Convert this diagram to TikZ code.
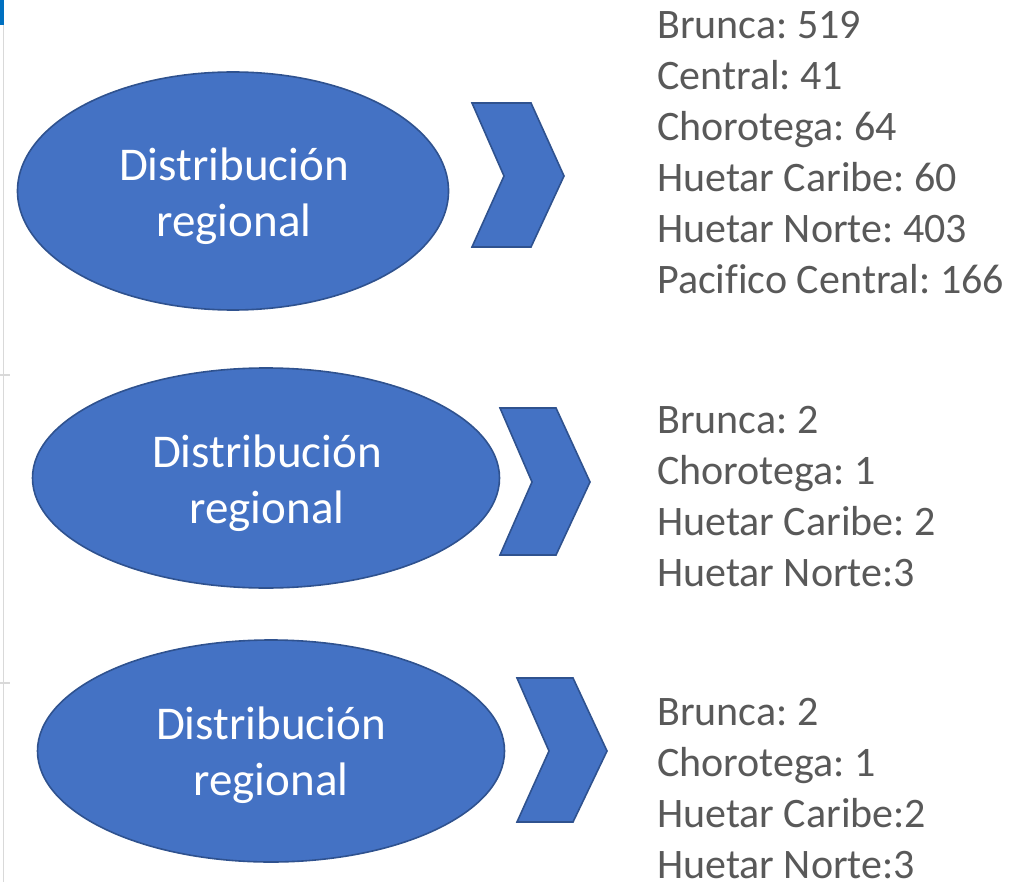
\documentclass[tikz,border=0pt]{standalone}
\usepackage{fontspec}
\setmainfont[Ligatures=NoCommon]{Carlito}
\usetikzlibrary{shapes.geometric}
\definecolor{fillblue}{HTML}{4472C4}
\definecolor{edgeblue}{HTML}{2F528F}
\definecolor{txtgray}{HTML}{595959}
\definecolor{barblue}{HTML}{0070C0}
\definecolor{rulegray}{HTML}{D9D9D9}
\frenchspacing
\begin{document}
\begin{tikzpicture}[x=1pt,y=-1pt,
  oval/.style={ellipse,fill=fillblue,draw=edgeblue,line width=1.6pt,inner sep=0pt},
  ovaltext/.style={inner sep=0pt,text=white,align=center,font=\fontsize{47}{56}\selectfont},
  chev/.style={fill=fillblue,draw=edgeblue,line width=1.6pt,line join=miter},
  list/.style={anchor=west,inner sep=0pt,align=left,text=txtgray,
    font=\fontsize{42}{51}\selectfont}
]
\useasboundingbox (0,0) rectangle (1024,882);
% left edge decoration
\fill[barblue] (0,0) rectangle (4,25);
\draw[rulegray,line width=1.2pt] (3.5,25) -- (3.5,882);
\draw[rulegray,line width=1.2pt] (0,375) -- (10,375);
\draw[rulegray,line width=1.2pt] (0,683) -- (10,683);

% ellipses
\node[oval,minimum width=431pt,minimum height=238pt] (e1) at (233,191) {};
\node[oval,minimum width=467pt,minimum height=220pt] (e2) at (266,478) {};
\node[oval,minimum width=467pt,minimum height=222pt] (e3) at (271,751) {};
\node[ovaltext] (t1) at (234,196) {Distribución\\regional};
\node[ovaltext] (t2) at (267,483) {Distribución\\regional};
\node[ovaltext] (t3) at (271,755) {Distribución\\regional};

% chevrons
\draw[chev] (472,103) -- (531,103) -- (564,176) -- (531,247) -- (472,247) -- (504,176) -- cycle;
\draw[chev] (500,408) -- (556,408) -- (590,482) -- (556,555) -- (500,555) -- (532,482) -- cycle;
\draw[chev] (517,678) -- (573,678) -- (607,751) -- (573,822) -- (517,822) -- (549,751) -- cycle;

% lists
\node[list] (l1) at (657,153) {Brunca: 519\\Central: 41\\Chorotega: 64\\Huetar Caribe: 60\\Huetar Norte: 403\\Pacifico Central: 166};
\node[list] (l2) at (657,497) {Brunca: 2\\Chorotega: 1\\Huetar Caribe: 2\\Huetar Norte:3};
\node[list] (l3) at (657,789) {Brunca: 2\\Chorotega: 1\\Huetar Caribe:2\\Huetar Norte:3};
\end{tikzpicture}
\end{document}
